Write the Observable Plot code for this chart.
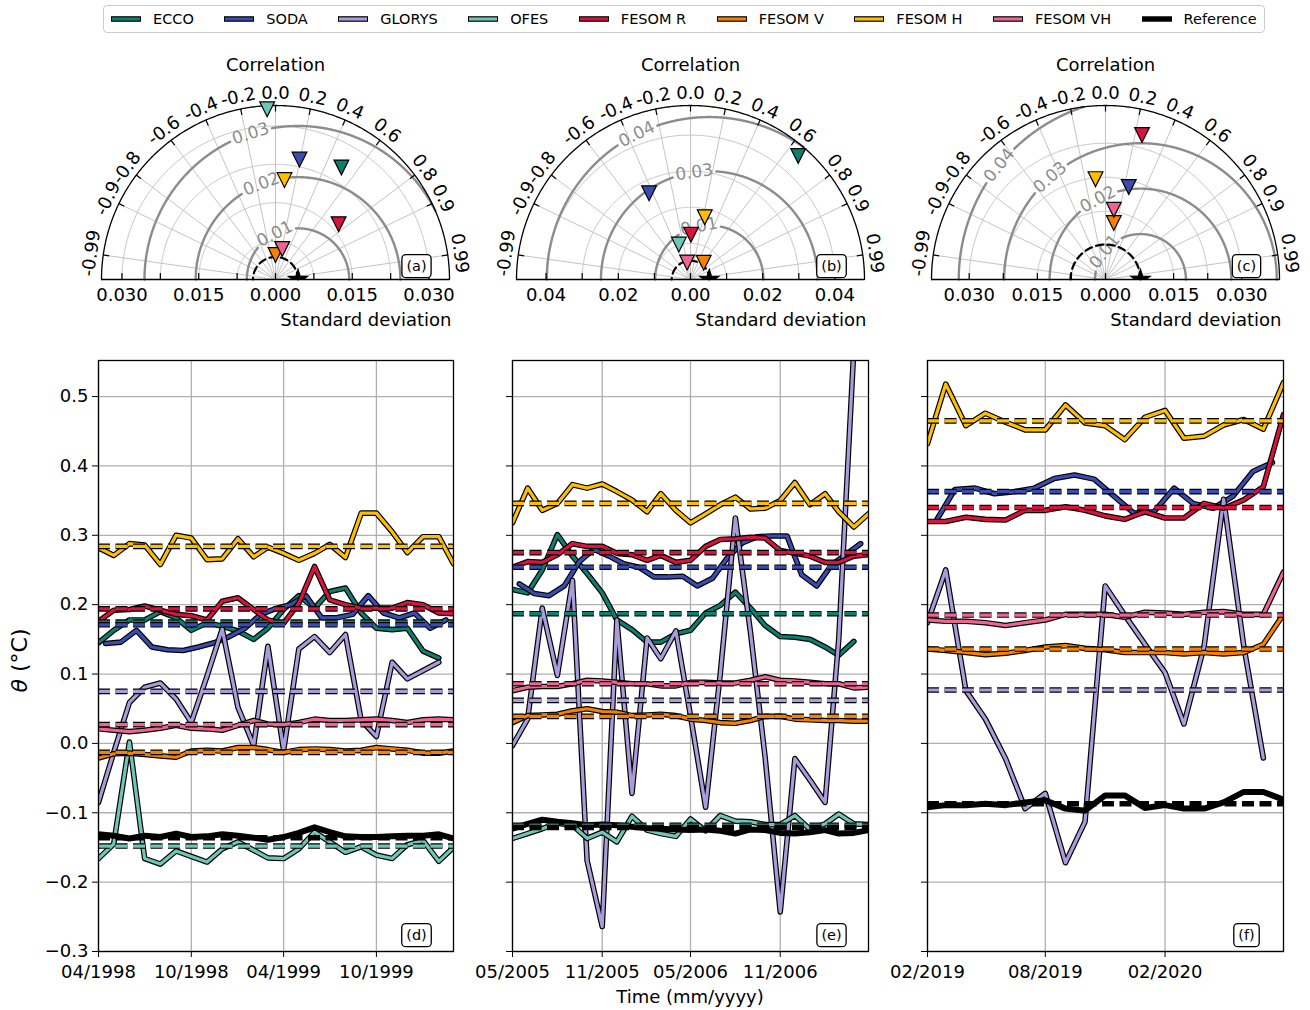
<!DOCTYPE html>
<html>
<head>
<meta charset="utf-8">
<title>Potential temperature: Taylor diagrams and monthly series</title>
<script src="https://cdn.jsdelivr.net/npm/d3@7"></script>
<script src="https://cdn.jsdelivr.net/npm/@observablehq/plot@0.6"></script>
<style>
  html, body { margin: 0; padding: 0; background: #ffffff; }
  #figure { position: relative; width: 1310px; height: 1010px; overflow: hidden; font-family: "DejaVu Sans", sans-serif; }
  #figure > div.slot { position: absolute; }
  #figure > div.slot > svg { max-width: none !important; }
  .legend { position: absolute; left: 103px; top: 5px; height: 28px; box-sizing: border-box; border: 1px solid #cccccc; border-radius: 4px; background: #fff; display: flex; align-items: center; padding: 0 7px; gap: 30.5px; font-size: 14.5px; color: #000; white-space: nowrap; }
  .legend .item { display: flex; align-items: center; }
  .legend svg { margin-right: 12px; display: block; }
</style>
</head>
<body>
<div id="figure"></div>
<script>
// ---------- products (legend order) ----------
const modelNames  = ["ECCO", "SODA", "GLORYS", "OFES", "FESOM R", "FESOM V", "FESOM H", "FESOM VH", "Reference"];
const modelColors = ["#0c7f6f", "#3a4caf", "#a99cda", "#70c6b6", "#d8143e", "#f48200", "#ffbe00", "#eb6690", "#000000"];
// SODA fields are stamped mid-month, the others at the start of the month
const modelDayOffset = [0, 14, 0, 0, 0, 0, 0, 0, 0];

// ---------- panel (d): 04/1998 - 03/2000 ----------
const startD = "1998-04-01", endD = "2000-03-01";
const ticksD = ["1998-04-01", "1998-10-01", "1999-04-01", "1999-10-01"];
const eccoD    = [0.145, 0.163, 0.178, 0.178, 0.190, 0.181, 0.163, 0.174, 0.169, 0.162, 0.150, 0.166, 0.193, 0.213, 0.195, 0.219, 0.224, 0.188, 0.166, 0.164, 0.166, 0.133, 0.123];
const sodaD    = [0.144, 0.146, 0.163, 0.139, 0.135, 0.134, 0.139, 0.145, 0.154, 0.166, 0.186, 0.194, 0.200, 0.213, 0.181, 0.181, 0.186, 0.213, 0.188, 0.181, 0.188, 0.166, 0.178];
const glorysD  = [-0.085, -0.013, 0.059, 0.081, 0.087, 0.064, 0.030, 0.097, 0.165, 0.052, -0.003, 0.140, -0.010, 0.136, 0.154, 0.131, 0.157, 0.033, 0.010, 0.117, 0.093, 0.105, 0.117];
const ofesD    = [-0.166, -0.145, 0.002, -0.166, -0.174, -0.155, -0.163, -0.171, -0.152, -0.142, -0.154, -0.165, -0.166, -0.152, -0.128, -0.142, -0.157, -0.149, -0.161, -0.166, -0.146, -0.140, -0.170, -0.150];
const fesomRD  = [0.176, 0.192, 0.193, 0.198, 0.192, 0.186, 0.184, 0.178, 0.205, 0.210, 0.193, 0.178, 0.173, 0.202, 0.255, 0.207, 0.200, 0.195, 0.195, 0.195, 0.203, 0.200, 0.188, 0.187];
const fesomVD  = [-0.021, -0.015, -0.014, -0.016, -0.018, -0.020, -0.011, -0.010, -0.011, -0.006, -0.006, -0.009, -0.013, -0.009, -0.008, -0.009, -0.011, -0.010, -0.006, -0.008, -0.010, -0.014, -0.014, -0.011];
const fesomHD  = [0.282, 0.271, 0.288, 0.286, 0.258, 0.300, 0.296, 0.265, 0.266, 0.295, 0.269, 0.283, 0.274, 0.264, 0.274, 0.287, 0.268, 0.332, 0.332, 0.305, 0.275, 0.298, 0.298, 0.259];
const fesomVHD = [0.021, 0.019, 0.017, 0.019, 0.022, 0.026, 0.022, 0.021, 0.019, 0.026, 0.033, 0.028, 0.027, 0.030, 0.035, 0.033, 0.033, 0.034, 0.035, 0.033, 0.030, 0.034, 0.035, 0.034];
const refD     = [-0.131, -0.133, -0.137, -0.133, -0.135, -0.130, -0.135, -0.134, -0.131, -0.133, -0.136, -0.139, -0.135, -0.129, -0.121, -0.128, -0.134, -0.135, -0.135, -0.134, -0.133, -0.133, -0.131, -0.137];
const meanD    = [0.175, 0.171, 0.075, -0.148, 0.194, -0.013, 0.284, 0.027, -0.136];

// ---------- panel (e): 05/2005 - 05/2007 ----------
const startE = "2005-05-01", endE = "2007-05-01";
const ticksE = ["2005-05-01", "2005-11-01", "2006-05-01", "2006-11-01"];
const eccoE    = [0.222, 0.217, 0.250, 0.301, 0.270, 0.245, 0.217, 0.178, 0.164, 0.146, 0.146, 0.158, 0.163, 0.188, 0.199, 0.218, 0.195, 0.170, 0.154, 0.153, 0.150, 0.139, 0.127, 0.147];
const sodaE    = [0.230, 0.216, 0.213, 0.227, 0.262, 0.280, 0.270, 0.259, 0.254, 0.240, 0.240, 0.241, 0.227, 0.238, 0.267, 0.289, 0.298, 0.299, 0.299, 0.243, 0.227, 0.258, 0.272, 0.288];
const glorysE  = [-0.003, 0.035, 0.195, 0.098, 0.235, -0.169, -0.264, 0.178, -0.072, 0.152, 0.122, 0.162, 0.040, -0.092, 0.100, 0.325, 0.160, -0.020, -0.243, -0.022, -0.053, -0.085, 0.150, 0.570];
const ofesE    = [-0.137, -0.130, -0.123, -0.115, -0.118, -0.137, -0.128, -0.142, -0.105, -0.125, -0.130, -0.134, -0.109, -0.126, -0.104, -0.112, -0.113, -0.117, -0.117, -0.104, -0.124, -0.116, -0.102, -0.116, -0.117];
const fesomRE  = [0.254, 0.262, 0.261, 0.272, 0.288, 0.284, 0.284, 0.274, 0.272, 0.264, 0.271, 0.261, 0.264, 0.284, 0.294, 0.295, 0.297, 0.296, 0.278, 0.274, 0.270, 0.261, 0.261, 0.270, 0.272];
const fesomVE  = [0.030, 0.040, 0.041, 0.042, 0.047, 0.050, 0.046, 0.045, 0.040, 0.041, 0.042, 0.040, 0.035, 0.033, 0.030, 0.029, 0.033, 0.039, 0.039, 0.035, 0.034, 0.033, 0.033, 0.032, 0.032];
const fesomHE  = [0.318, 0.368, 0.336, 0.346, 0.373, 0.368, 0.374, 0.363, 0.351, 0.334, 0.360, 0.336, 0.318, 0.331, 0.344, 0.355, 0.338, 0.339, 0.350, 0.376, 0.344, 0.360, 0.334, 0.312, 0.331];
const fesomVHE = [0.076, 0.081, 0.082, 0.082, 0.086, 0.091, 0.090, 0.088, 0.086, 0.086, 0.083, 0.083, 0.088, 0.088, 0.087, 0.087, 0.091, 0.096, 0.091, 0.090, 0.088, 0.086, 0.086, 0.080, 0.081];
const refE     = [-0.123, -0.116, -0.110, -0.113, -0.115, -0.118, -0.117, -0.118, -0.120, -0.122, -0.123, -0.124, -0.125, -0.124, -0.126, -0.130, -0.124, -0.125, -0.129, -0.130, -0.128, -0.125, -0.130, -0.129, -0.125];
const meanE    = [0.187, 0.254, 0.062, -0.118, 0.275, 0.039, 0.346, 0.086, -0.121];

// ---------- panel (f): 02/2019 - 08/2020 ----------
const startF = "2019-02-01", endF = "2020-08-01";
const ticksF = ["2019-02-01", "2019-08-01", "2020-02-01"];
const sodaF    = [0.322, 0.366, 0.368, 0.360, 0.363, 0.368, 0.382, 0.387, 0.381, 0.356, 0.332, 0.334, 0.368, 0.346, 0.339, 0.356, 0.392, 0.405];
const glorysF  = [0.174, 0.250, 0.076, 0.035, -0.022, -0.094, -0.072, -0.172, -0.113, 0.227, 0.185, 0.143, 0.102, 0.028, 0.140, 0.352, 0.140, -0.021];
const fesomRF  = [0.320, 0.320, 0.326, 0.323, 0.322, 0.336, 0.336, 0.341, 0.336, 0.328, 0.323, 0.334, 0.325, 0.325, 0.346, 0.339, 0.351, 0.370, 0.474];
const fesomVF  = [0.136, 0.134, 0.131, 0.128, 0.130, 0.134, 0.139, 0.141, 0.137, 0.135, 0.131, 0.131, 0.131, 0.129, 0.131, 0.129, 0.131, 0.143, 0.186];
const fesomHF  = [0.432, 0.518, 0.458, 0.476, 0.463, 0.452, 0.452, 0.488, 0.462, 0.458, 0.438, 0.470, 0.480, 0.440, 0.443, 0.459, 0.467, 0.453, 0.520];
const fesomVHF = [0.178, 0.176, 0.176, 0.174, 0.170, 0.174, 0.178, 0.186, 0.186, 0.186, 0.182, 0.189, 0.188, 0.186, 0.189, 0.190, 0.186, 0.186, 0.247];
const refF     = [-0.092, -0.089, -0.089, -0.087, -0.089, -0.085, -0.082, -0.094, -0.097, -0.075, -0.075, -0.093, -0.089, -0.094, -0.094, -0.085, -0.070, -0.070, -0.081];
const meanF    = [null, 0.363, 0.077, null, 0.340, 0.136, 0.465, 0.185, -0.087];

const yTicks = [-0.3, -0.2, -0.1, 0.0, 0.1, 0.2, 0.3, 0.4, 0.5];
const yDomain = [-0.3, 0.552];

// ---------- Taylor diagrams (a)-(c) ----------
const corrTicks = [-0.99, -0.9, -0.8, -0.6, -0.4, -0.2, 0, 0.2, 0.4, 0.6, 0.8, 0.9, 0.99];
const stdMax = [0.0340, 0.0482, 0.0383];
const refStd = [0.0044, 0.0052, 0.0077];
const stdTickStep = [0.0075, 0.01, 0.0075];
const stdLabelTicks = [[-0.03, -0.015, 0, 0.015, 0.03], [-0.04, -0.02, 0, 0.02, 0.04], [-0.03, -0.015, 0, 0.015, 0.03]];
const stdLabelFormat = [".3f", ".2f", ".3f"];
const rmsLevelsA = [0.01, 0.02, 0.03];
const rmsLevelsB = [0.015, 0.03, 0.045];
const rmsLevelsC = [0.01, 0.02, 0.03, 0.04];
const rmsLabelAngleA = [117, 111, 108];
const rmsLabelAngleB = [101, 98, 116.5];
const rmsLabelAngleC = [142, 118, 131.5, 141];
// standard deviation and correlation per product (null: outside the diagram / not available)
const taylorStdA  = [0.0254, 0.0239, null, 0.0333, 0.0164, 0.0048, 0.0195, 0.0061];
const taylorCorrA = [0.507, 0.196, null, -0.049, 0.752, 0.0, 0.090, 0.216];
const taylorStdB  = [0.0454, 0.0265, null, 0.0102, 0.0124, 0.0059, 0.0177, 0.0048];
const taylorCorrB = [0.657, -0.433, null, -0.316, 0.010, 0.620, 0.223, -0.192];
const taylorStdC  = [null, 0.0210, null, null, 0.0328, 0.01257, 0.0222, 0.01547];
const taylorCorrC = [null, 0.244, null, null, 0.245, 0.1455, -0.099, 0.118];

// ---------- helpers ----------
const FONT = "DejaVu Sans";
const fig = document.getElementById("figure");
const parseDay = d3.utcParse("%Y-%m-%d");

function place(node, left, top, width, height) {
  const slot = document.createElement("div");
  slot.className = "slot";
  slot.style.left = left + "px";
  slot.style.top = top + "px";
  slot.style.width = width + "px";
  slot.style.height = height + "px";
  slot.appendChild(node);
  fig.appendChild(slot);
  return node;
}

// rounded boxes behind the panel letters
function boxLetters(svg) {
  d3.select(svg).selectAll("text").filter(function () { return /^\([a-f]\)$/.test(this.textContent); }).each(function () {
    const b = this.getBBox();
    d3.select(this.parentNode).insert("rect", () => this)
      .attr("transform", this.getAttribute("transform"))
      .attr("x", b.x - 4.5).attr("y", b.y - 3.5)
      .attr("width", b.width + 9).attr("height", b.height + 7)
      .attr("rx", 4).attr("fill", "white").attr("stroke", "black").attr("stroke-width", 1.3);
  });
}

// downward triangle and five-point star marker shapes
const triDown = {
  draw(ctx, size) {
    const h = Math.sqrt(size / Math.PI);
    ctx.moveTo(-h, -h); ctx.lineTo(h, -h); ctx.lineTo(0, h); ctx.closePath();
  }
};
const star5 = {
  draw(ctx, size) {
    const R0 = Math.sqrt(size / Math.PI), r0 = R0 * 0.381966;
    for (let i = 0; i < 10; i++) {
      const a = -Math.PI / 2 + i * Math.PI / 5, rr = i % 2 ? r0 : R0;
      const px = rr * Math.cos(a), py = rr * Math.sin(a);
      if (i) ctx.lineTo(px, py); else ctx.moveTo(px, py);
    }
    ctx.closePath();
  }
};

// ---------- Taylor diagram ----------
function taylorPlot(k, stds, corrs, levels, labelAngles, letter) {
  const smax = stdMax[k], ref = refStd[k];
  const R = 174, mL = 62, mR = 62, mT = 105, mB = 62;
  const u = smax / R; // data units per pixel
  const step = stdTickStep[k];
  const lim = d3.max(stdLabelTicks[k]);
  const n = Math.round(lim / step);
  const stdTicks = d3.range(-n, n + 1).map(i => i * step);
  const fmt = d3.format(stdLabelFormat[k]);

  const halfCircle = r => d3.range(0, 361).map(i => ({a: Math.PI * i / 360, r}));
  const px = d => d.r * Math.cos(d.a), py = d => d.r * Math.sin(d.a);
  const circles = stdTicks.filter(t => t > 1e-9).flatMap(t => halfCircle(t));

  // centred RMS-difference arcs, cut at the outer circle and around their labels
  const rmsRows = [], rmsText = [];
  levels.forEach((L, j) => {
    const gap = 22 * u / L;
    const aL = labelAngles[j] * Math.PI / 180;
    let seg = 0, prev = false;
    for (let i = 0; i <= 1440; i++) {
      const a = Math.PI * i / 1440;
      const x = ref + L * Math.cos(a), y = L * Math.sin(a);
      const keep = Math.hypot(x, y) <= smax && Math.abs(a - aL) > gap;
      if (keep) { if (!prev) seg++; rmsRows.push({x, y, key: j + ":" + seg}); }
      prev = keep;
    }
    rmsText.push({x: ref + L * Math.cos(aL), y: L * Math.sin(aL), label: d3.format(".2f")(L), rot: 90 - labelAngles[j]});
  });

  const pts = [];
  modelNames.forEach((name, i) => {
    if (stds[i] == null) return;
    pts.push({name, color: modelColors[i], x: stds[i] * corrs[i], y: stds[i] * Math.sqrt(1 - corrs[i] * corrs[i])});
  });

  const W = 2 * R + mL + mR, H = R + mT + mB;
  const svg = Plot.plot({
    width: W, height: H,
    marginLeft: mL, marginRight: mR, marginTop: mT, marginBottom: mB,
    x: {domain: [-smax, smax], axis: null},
    y: {domain: [0, smax], axis: null},
    style: {fontFamily: FONT, fontSize: "18px", background: "transparent", overflow: "visible", maxWidth: "none"},
    marks: [
      // light grid: correlation spokes and standard-deviation circles
      Plot.link(corrTicks, {x1: () => 0, y1: () => 0, x2: c => smax * c, y2: c => smax * Math.sqrt(1 - c * c), stroke: "#c4c4c4", strokeWidth: 1}),
      Plot.line(circles, {x: px, y: py, z: "r", stroke: "#c4c4c4", strokeWidth: 1}),
      // RMS difference contours
      Plot.line(rmsRows, {x: "x", y: "y", z: "key", stroke: "#8c8c8c", strokeWidth: 2.4}),
      Plot.text(rmsText, {x: "x", y: "y", text: "label", rotate: "rot", fill: "#8c8c8c", fontSize: 17, textAnchor: "middle", lineAnchor: "middle"}),
      // reference standard deviation
      Plot.line(halfCircle(ref), {x: px, y: py, stroke: "black", strokeWidth: 2.2, strokeDasharray: "7,4.5"}),
      // outer arc and base axis
      Plot.line(halfCircle(smax), {x: px, y: py, stroke: "black", strokeWidth: 1.3}),
      Plot.ruleY([0], {stroke: "black", strokeWidth: 1.3}),
      // inward ticks
      Plot.link(corrTicks, {x1: c => smax * c, y1: c => smax * Math.sqrt(1 - c * c), x2: c => (smax - 6 * u) * c, y2: c => (smax - 6 * u) * Math.sqrt(1 - c * c), stroke: "black", strokeWidth: 1.2}),
      Plot.ruleX(stdTicks, {x: d => d, y1: () => 0, y2: () => 6 * u, stroke: "black", strokeWidth: 1.2}),
      // labels
      Plot.text(corrTicks, {x: c => 1.07 * smax * c, y: c => 1.07 * smax * Math.sqrt(1 - c * c), text: c => (c === 0 ? "0.0" : String(c)), rotate: c => 90 - Math.acos(c) * 180 / Math.PI, textAnchor: "middle", lineAnchor: "middle"}),
      Plot.text(stdLabelTicks[k], {x: d => d, y: () => 0, text: d => fmt(Math.abs(d)), dy: 16, textAnchor: "middle", lineAnchor: "middle"}),
      Plot.text(["Correlation"], {frameAnchor: "top", dy: -40, textAnchor: "middle", lineAnchor: "middle"}),
      Plot.text(["Standard deviation"], {frameAnchor: "bottom-right", dx: 2, dy: 41, textAnchor: "end", lineAnchor: "middle"}),
      // products and reference
      ...pts.map(p => Plot.dot([p], {x: "x", y: "y", symbol: triDown, r: 7.4, fill: p.color, stroke: "black", strokeWidth: 1.2})),
      Plot.dot([ref], {x: d => d, y: () => 0, symbol: star5, r: 12, fill: "black", clip: true}),
      Plot.text([letter], {frameAnchor: "bottom-right", dx: -33, dy: -13, textAnchor: "middle", lineAnchor: "middle", fontSize: 14.5})
    ]
  });
  return {svg, mL, R, mT, W, H};
}

const taylorCenters = [275, 690, 1105];
const taylors = [
  taylorPlot(0, taylorStdA, taylorCorrA, rmsLevelsA, rmsLabelAngleA, "(a)"),
  taylorPlot(1, taylorStdB, taylorCorrB, rmsLevelsB, rmsLabelAngleB, "(b)"),
  taylorPlot(2, taylorStdC, taylorCorrC, rmsLevelsC, rmsLabelAngleC, "(c)")
];
taylors.forEach((t, k) => {
  place(t.svg, taylorCenters[k] - t.R - t.mL, 279 - t.R - t.mT, t.W, t.H);
  boxLetters(t.svg);
});

// ---------- monthly series panels ----------
function panelPlot(cfg) {
  const {start, end, ticks, series, means, letter, showY, frameW} = cfg;
  const mL = showY ? 98 : 45, mR = 10, mT = 10, mB = 60, H = 591;
  const t0 = parseDay(start);
  const marks = [
    Plot.gridX(ticks.map(parseDay), {stroke: "#b0b0b0", strokeOpacity: 1, strokeWidth: 1.3}),
    Plot.gridY(yTicks, {stroke: "#b0b0b0", strokeOpacity: 1, strokeWidth: 1.3}),
    Plot.axisX(ticks.map(parseDay), {tickFormat: d3.utcFormat("%m/%Y"), tickSize: 6, tickPadding: 8, label: null}),
    Plot.axisY(yTicks, {tickFormat: showY ? d3.format(".1f") : () => "", tickSize: 6, tickPadding: 4, label: null})
  ];
  series.forEach((values, i) => {
    if (!values) return;
    const rows = values.map((v, j) => ({date: d3.utcDay.offset(d3.utcMonth.offset(t0, j), modelDayOffset[i]), value: v}));
    if (modelNames[i] === "Reference") {
      marks.push(Plot.line(rows, {x: "date", y: "value", stroke: "black", strokeWidth: 6, clip: true}));
    } else {
      marks.push(Plot.line(rows, {x: "date", y: "value", stroke: "black", strokeWidth: 5.6, clip: true}));
      marks.push(Plot.line(rows, {x: "date", y: "value", stroke: modelColors[i], strokeWidth: 3.2, clip: true}));
    }
  });
  means.forEach((m, i) => {
    if (m == null) return;
    marks.push(Plot.ruleY([m], {stroke: "black", strokeWidth: 5.6, strokeDasharray: "12,5.5"}));
    if (modelNames[i] !== "Reference")
      marks.push(Plot.ruleY([m], {stroke: modelColors[i], strokeWidth: 3.2, strokeDasharray: "12,5.5"}));
  });
  marks.push(Plot.frame({stroke: "black", strokeWidth: 1.3}));
  marks.push(Plot.text([letter], {frameAnchor: "bottom-right", dx: -37, dy: -16, textAnchor: "middle", lineAnchor: "middle", fontSize: 14.5}));
  const W = frameW + mL + mR, HH = H + mT + mB;
  const svg = Plot.plot({
    width: W, height: HH,
    marginLeft: mL, marginRight: mR, marginTop: mT, marginBottom: mB,
    x: {type: "utc", domain: [parseDay(start), parseDay(end)]},
    y: {domain: yDomain},
    style: {fontFamily: FONT, fontSize: "18px", background: "transparent", overflow: "visible", maxWidth: "none"},
    marks
  });
  return {svg, mL, mT, H, frameW, W, HH};
}

const panels = [
  {left: 98, cfg: {start: startD, end: endD, ticks: ticksD, letter: "(d)", showY: true, frameW: 355,
    series: [eccoD, sodaD, glorysD, ofesD, fesomRD, fesomVD, fesomHD, fesomVHD, refD], means: meanD}},
  {left: 512, cfg: {start: startE, end: endE, ticks: ticksE, letter: "(e)", showY: false, frameW: 356,
    series: [eccoE, sodaE, glorysE, ofesE, fesomRE, fesomVE, fesomHE, fesomVHE, refE], means: meanE}},
  {left: 927, cfg: {start: startF, end: endF, ticks: ticksF, letter: "(f)", showY: false, frameW: 356,
    series: [null, sodaF, glorysF, null, fesomRF, fesomVF, fesomHF, fesomVHF, refF], means: meanF}}
];
const built = panels.map(p => {
  const b = panelPlot(p.cfg);
  place(b.svg, p.left - b.mL, 360 - b.mT, b.W, b.HH);
  boxLetters(b.svg);
  return b;
});

// axis titles
{
  const b = built[0];
  const t = d3.select(b.svg).append("text")
    .attr("transform", `translate(21, ${b.mT + b.H / 2 + 5}) rotate(-90)`)
    .attr("text-anchor", "middle").attr("dominant-baseline", "middle")
    .style("font-family", FONT).style("font-size", "22px");
  t.append("tspan").attr("font-style", "italic").text("θ");
  t.append("tspan").text(" (°C)");
}
{
  const b = built[1];
  d3.select(b.svg).append("text")
    .attr("x", b.mL + b.frameW / 2).attr("y", b.mT + b.H + 47)
    .attr("text-anchor", "middle").attr("dominant-baseline", "middle")
    .style("font-family", FONT).style("font-size", "18px")
    .text("Time (mm/yyyy)");
}

// ---------- legend ----------
const legend = d3.select(fig).append("div").attr("class", "legend");
modelNames.forEach((name, i) => {
  const item = legend.append("div").attr("class", "item");
  const s = item.append("svg").attr("width", 30).attr("height", 12);
  if (name === "Reference") {
    s.append("line").attr("x1", 0).attr("x2", 30).attr("y1", 6).attr("y2", 6).attr("stroke", "black").attr("stroke-width", 5.5);
  } else {
    s.append("line").attr("x1", 0).attr("x2", 30).attr("y1", 6).attr("y2", 6).attr("stroke", "black").attr("stroke-width", 5.6);
    s.append("line").attr("x1", 1).attr("x2", 29).attr("y1", 6).attr("y2", 6).attr("stroke", modelColors[i]).attr("stroke-width", 3.2);
  }
  item.append("span").text(name);
});
</script>
</body>
</html>
